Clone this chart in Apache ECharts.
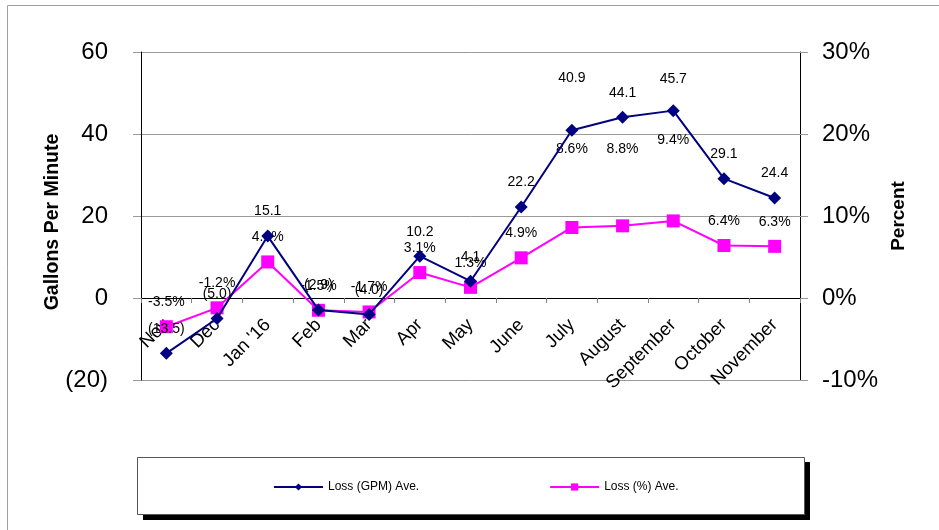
<!DOCTYPE html>
<html>
<head>
<meta charset="utf-8">
<script src="https://cdn.jsdelivr.net/npm/echarts@6/dist/echarts.min.js"></script>
<style>
html,body{margin:0;padding:0;background:#fff;}
#chart{width:939px;height:530px;}
</style>
</head>
<body>
<div id="chart"></div>
<script>
const categories = ["Nov", "Dec", "Jan '16", "Feb", "Mar", "Apr", "May", "June", "July", "August", "September", "October", "November"];
const gpmValues = [-13.5, -5.0, 15.1, -2.9, -4.0, 10.2, 4.1, 22.2, 40.9, 44.1, 45.7, 29.1, 24.4];
const pctValues = [-3.5, -1.2, 4.4, -1.5, -1.7, 3.1, 1.3, 4.9, 8.6, 8.8, 9.4, 6.4, 6.3];
const leftTicks = { min: -20, max: 60, interval: 20 };
const rightTicks = { min: -10, max: 30, interval: 10 };
const seriesNames = ["Loss (GPM) Ave.", "Loss (%) Ave."];

const FONT = "Liberation Sans, Arial, sans-serif";
const chart = echarts.init(document.getElementById('chart'), null, { renderer: 'canvas' });

function fmtGpm(v) { return v < 0 ? '(' + Math.abs(v).toFixed(1) + ')' : v.toFixed(1); }
function fmtPct(v) { return v.toFixed(1) + '%'; }

// extra upward nudges of some data labels (as hand-placed in the original)
const gpmLabelNudge = { 8: 28, 10: 7 };
const pctLabelNudge = { 8: 54, 9: 52, 10: 56 };
function withNudges(values, nudges) {
  return values.map((v, i) => nudges[i] ? { value: v, label: { offset: [0, -nudges[i]] } } : v);
}

const option = {
  backgroundColor: '#fff',
  animation: false,
  textStyle: { fontFamily: FONT, color: '#000' },
  grid: { left: 141, right: 139, top: 52, bottom: 150, containLabel: false },
  graphic: [
    { type: 'rect', shape: { x: 7.5, y: 5.5, width: 1000, height: 600 }, style: { fill: 'none', stroke: '#a0a0a0', lineWidth: 1 }, z: -10 },
    { type: 'rect', shape: { x: 143, y: 462, width: 667, height: 58 }, style: { fill: '#000' }, z: -5 },
    { type: 'rect', shape: { x: 137.5, y: 457.5, width: 667, height: 57 }, style: { fill: '#fff', stroke: '#555', lineWidth: 1 }, z: -4 }
  ],
  legend: {
    left: 268, top: 476,
    itemWidth: 49, itemHeight: 9, itemGap: 130,
    textStyle: { fontSize: 12, fontFamily: FONT, color: '#000' },
    data: [ { name: seriesNames[0] }, { name: seriesNames[1] } ]
  },
  xAxis: {
    type: 'category',
    data: categories,
    boundaryGap: true,
    offset: -82,
    axisLine: { onZero: false, lineStyle: { color: '#000', width: 1 } },
    axisTick: { show: true, length: 5, lineStyle: { color: '#808080' } },
    axisLabel: { rotate: 45, fontSize: 18.5, fontFamily: FONT, color: '#000', margin: 24, interval: 0 },
    splitLine: { show: false }
  },
  yAxis: [
    {
      type: 'value', position: 'left',
      min: leftTicks.min, max: leftTicks.max, interval: leftTicks.interval,
      name: 'Gallons Per Minute', nameLocation: 'middle', nameGap: 78, nameRotate: 90, nameMoveOverlap: false,
      nameTextStyle: { fontSize: 19.5, fontWeight: 'bold', fontFamily: FONT, color: '#000', padding: [0, 12, 0, 0] },
      axisLine: { show: true, lineStyle: { color: '#000', width: 1 } },
      axisTick: { show: true, length: 8, lineStyle: { color: '#999' } },
      axisLabel: { fontSize: 24, fontFamily: FONT, color: '#000', margin: 33,
        formatter: v => v < 0 ? '(' + Math.abs(v) + ')' : String(v) },
      splitLine: { show: true, lineStyle: { color: '#999', width: 1 } }
    },
    {
      type: 'value', position: 'right',
      min: rightTicks.min, max: rightTicks.max, interval: rightTicks.interval,
      name: 'Percent', nameLocation: 'middle', nameGap: 89, nameRotate: 90, nameMoveOverlap: false,
      nameTextStyle: { fontSize: 19, fontWeight: 'bold', fontFamily: FONT, color: '#000' },
      axisLine: { show: true, lineStyle: { color: '#000', width: 1 } },
      axisTick: { show: true, length: 8, lineStyle: { color: '#999' } },
      axisLabel: { fontSize: 24, fontFamily: FONT, color: '#000', margin: 22, formatter: '{value}%' },
      splitLine: { show: false }
    }
  ],
  series: [
    {
      name: seriesNames[0], type: 'line', yAxisIndex: 0, data: withNudges(gpmValues, gpmLabelNudge),
      symbol: 'diamond', symbolSize: 13,
      lineStyle: { color: '#000080', width: 2 },
      itemStyle: { color: '#000080' },
      label: { show: true, position: 'top', distance: 11, fontSize: 14, fontFamily: FONT, color: '#000',
        formatter: p => fmtGpm(p.value) },
      z: 3
    },
    {
      name: seriesNames[1], type: 'line', yAxisIndex: 1, data: withNudges(pctValues, pctLabelNudge),
      symbol: 'rect', symbolSize: 13,
      lineStyle: { color: '#ff00ff', width: 2 },
      itemStyle: { color: '#ff00ff' },
      label: { show: true, position: 'top', distance: 11, fontSize: 14, fontFamily: FONT, color: '#000',
        formatter: p => fmtPct(p.value) },
      z: 2
    }
  ]
};
chart.setOption(option);
</script>
</body>
</html>
